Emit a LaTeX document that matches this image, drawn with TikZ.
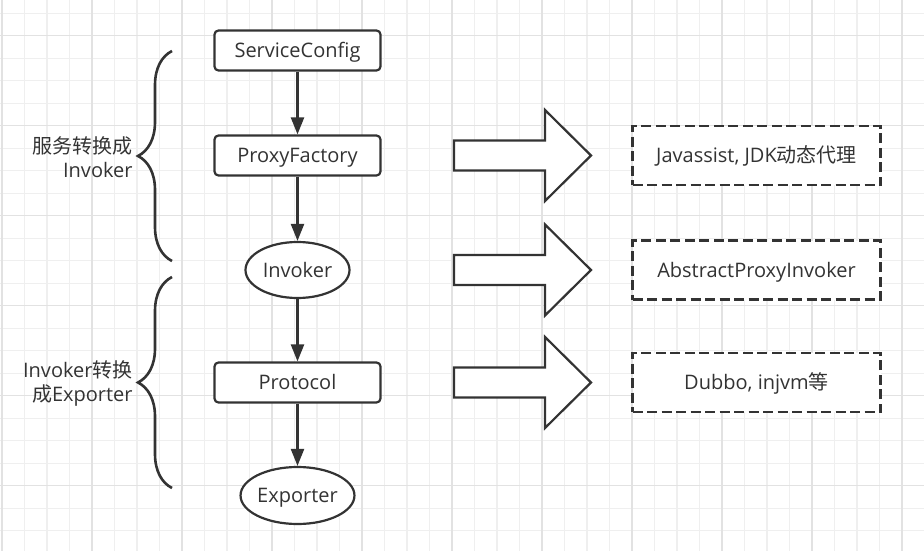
\documentclass[tikz,border=0pt]{standalone}
\usepackage{fontspec}
\setmainfont{Open Sans}
\newfontfamily\cjk{Noto Sans CJK SC}
\usepackage{tikz}
\usetikzlibrary{arrows.meta,shapes.geometric,decorations.pathreplacing,calc}

\definecolor{ink}{HTML}{333333}
\definecolor{gridminor}{HTML}{EFEFEF}
\definecolor{gridmajor}{HTML}{E2E2E2}

\begin{document}
\begin{tikzpicture}[x=1pt,y=-1pt,>={Triangle[length=17pt,width=13pt]},
                    color=ink,line width=2.2pt,node distance=113pt,
                    font=\fontsize{20}{24}\selectfont]
  \tikzstyle{block}=[rectangle,draw,fill=white,rounded corners=4pt,
                     text height=14.3pt,text depth=0pt,
                     minimum width=166pt,minimum height=40pt]
  \tikzstyle{result}=[ellipse,draw,fill=white,inner sep=0pt,
                      text height=14.3pt,text depth=0pt,
                      minimum width=104pt,minimum height=56pt]
  \tikzstyle{impl}=[rectangle,draw,fill=white,dash pattern=on 10pt off 4.5pt,
                    text height=14.3pt,text depth=0pt,
                    line width=2.6pt,minimum width=248pt,minimum height=59pt]
  \tikzstyle{bigarrow}=[draw,fill=white,line join=miter]
  \tikzstyle{group}=[decorate,decoration={brace,amplitude=34pt},line width=2.6pt]

  \useasboundingbox (0,0) rectangle (924,551);
  \fill[white] (0,0) rectangle (924,551);
  % grid
  \foreach \i in {0,...,41}
    \draw[gridminor,line width=1.2pt] (2+22.5*\i,0) -- (2+22.5*\i,551);
  \foreach \j in {0,...,24}
    \draw[gridminor,line width=1.2pt] (0,13.2+22.5*\j) -- (924,13.2+22.5*\j);
  \foreach \i in {0,...,10}
    \draw[gridmajor,line width=1.5pt] (2+90*\i,0) -- (2+90*\i,551);
  \foreach \j in {0,...,5}
    \draw[gridmajor,line width=1.5pt] (0,35.7+90*\j) -- (924,35.7+90*\j);

  \node[block] (sc) at (297.5,50.5)               {ServiceConfig};
  \node[block] (pf)    [below of=sc,node distance=105pt] {ProxyFactory};
  \node[result] (inv)  [below of=pf,node distance=114.5pt] {Invoker};
  \node[block] (proto) [below of=inv,node distance=112.5pt] {Protocol};
  \node[result,minimum width=109pt,minimum height=57pt] (exp) [below of=proto] {Exporter};

  \node[impl] (jdk)    [right of=pf,node distance=459pt]    {Javassist, JDK{\cjk 动态代理}};
  \node[impl] (api)    [right of=inv,node distance=459pt]   {AbstractProxyInvoker};
  \node[impl] (dubbo)  [right of=proto,node distance=459pt] {Dubbo, injvm{\cjk 等}};

  \path[->]
    (sc) edge (pf)
    (pf) edge (inv)
    (inv) edge (proto)
    (proto) edge (exp);

  \foreach \n in {pf,inv,proto}
    \draw[bigarrow] ($(\n)+(156.5,-15)$) -- ++(91,0) -- ++(0,-30.5) -- ++(46,45.5)
      -- ++(-46,45.5) -- ++(0,-30.5) -- ++(-91,0) -- cycle;

  \coordinate (g1top) at (172,51);
  \coordinate (g1bot) at (172,261);
  \coordinate (g2top) at (172,277);
  \coordinate (g2bot) at (172,488);
  \draw[group] (g1bot) -- (g1top);
  \draw[group] (g2bot) -- (g2top);

  \node[anchor=east,align=right] (wrap) at (137,157)   {{\cjk 服务转换成}\\Invoker};
  \node[anchor=east,align=right] (export) at (137,383.5) {Invoker{\cjk 转换}\\{\cjk 成}Exporter};

\end{tikzpicture}
\end{document}
